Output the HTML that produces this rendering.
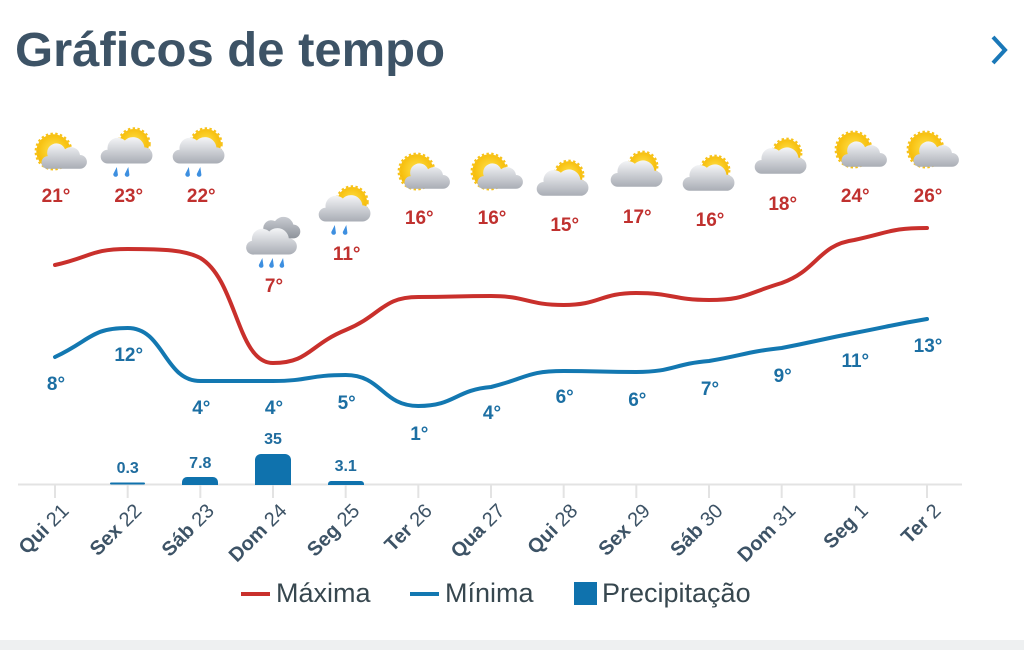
<!DOCTYPE html>
<html><head><meta charset="utf-8"><style>
html,body{margin:0;padding:0;background:#fff;}
body{width:1024px;height:650px;overflow:hidden;position:relative;font-family:"Liberation Sans",sans-serif;}
</style></head><body>
<svg width="1024" height="650" viewBox="0 0 1024 650" xmlns="http://www.w3.org/2000/svg" style="position:absolute;left:0;top:0">
<defs>
<radialGradient id="sun" cx="50%" cy="45%" r="55%"><stop offset="0" stop-color="#ffe14a"/><stop offset="1" stop-color="#f5b800"/></radialGradient>
<linearGradient id="cl" x1="0" y1="0" x2="0" y2="1"><stop offset="0" stop-color="#f4f5f7"/><stop offset="1" stop-color="#a9adb5"/></linearGradient>
<linearGradient id="cld" x1="0" y1="0" x2="0" y2="1"><stop offset="0" stop-color="#c9ccd2"/><stop offset="1" stop-color="#8e939b"/></linearGradient>
<g id="sunc0">
<circle cx="-3" cy="-3" r="15" fill="url(#sun)" stroke="#f7c21a" stroke-width="3" stroke-dasharray="2 2"/>
<path d="M-8 12 h28 a6 6 0 0 0 0-12 a8 8 0 0 0-13-5 a8 8 0 0 0-15 6 a5.5 5.5 0 0 0 0 11z" fill="url(#cl)"/>
</g>
<g id="sunc"><use href="#sunc0" transform="scale(1.15)"/></g>
<g id="rainsun0">
<circle cx="7" cy="-7" r="13" fill="url(#sun)" stroke="#f7c21a" stroke-width="3" stroke-dasharray="2 2"/>
<path d="M-16 10 h32 a7 7 0 0 0 0-14 a10 10 0 0 0-17-6 a9 9 0 0 0-15 8 a6 6 0 0 0 0 12z" fill="url(#cl)"/>
<path d="M-8 13 l-3 6 a2 2 0 0 0 4 1z M2 13 l-3 6 a2 2 0 0 0 4 1z" fill="#3d8fe0"/>
</g>
<g id="rainsun"><use href="#rainsun0" transform="scale(1.15)"/></g>
<g id="rain0">
<path d="M-4 -4 h20 a6 6 0 0 0 0-12 a9 9 0 0 0-16-3 a7 7 0 0 0-10 8z" fill="url(#cld)"/>
<path d="M-18 10 h30 a7 7 0 0 0 0-14 a10 10 0 0 0-17-6 a9 9 0 0 0-15 8 a6 6 0 0 0 2 12z" fill="url(#cl)"/>
<path d="M-11 13 l-3 6 a2 2 0 0 0 4 1z M-2 13 l-3 6 a2 2 0 0 0 4 1z M7 13 l-3 6 a2 2 0 0 0 4 1z" fill="#3d8fe0"/>
</g>
<g id="rain"><use href="#rain0" transform="scale(1.15)"/></g>
<g id="cloudsun0">
<circle cx="6" cy="-6" r="12" fill="url(#sun)" stroke="#f7c21a" stroke-width="3" stroke-dasharray="2 2"/>
<path d="M-16 12 h32 a7 7 0 0 0 0-14 a10 10 0 0 0-17-6 a9 9 0 0 0-15 8 a6 6 0 0 0 0 12z" fill="url(#cl)"/>
</g>
<g id="cloudsun"><use href="#cloudsun0" transform="scale(1.15)"/></g>
</defs>
<text x="15" y="66" font-size="48" font-weight="bold" fill="#3d5366" textLength="430" lengthAdjust="spacingAndGlyphs">Gráficos de tempo</text>
<path d="M993 37 l12 13 l-12 13" fill="none" stroke="#1a78b8" stroke-width="4"/>
<rect x="0" y="640" width="1024" height="10" fill="#eef0f1"/>

<line x1="18" y1="484.5" x2="962" y2="484.5" stroke="#e3e3e3" stroke-width="2"/>
<g stroke="#e3e3e3" stroke-width="2">
<line x1="55" y1="485" x2="55" y2="498"/><line x1="127.7" y1="485" x2="127.7" y2="498"/><line x1="200.3" y1="485" x2="200.3" y2="498"/><line x1="273" y1="485" x2="273" y2="498"/><line x1="345.7" y1="485" x2="345.7" y2="498"/><line x1="418.3" y1="485" x2="418.3" y2="498"/><line x1="491" y1="485" x2="491" y2="498"/><line x1="563.7" y1="485" x2="563.7" y2="498"/><line x1="636.3" y1="485" x2="636.3" y2="498"/><line x1="709" y1="485" x2="709" y2="498"/><line x1="781.7" y1="485" x2="781.7" y2="498"/><line x1="854.3" y1="485" x2="854.3" y2="498"/><line x1="927" y1="485" x2="927" y2="498"/>
</g>
<g font-size="20" fill="#3d5366" text-anchor="end">
<text transform="translate(70,512) rotate(-45)"><tspan font-weight="bold">Qui</tspan> 21</text>
<text transform="translate(142.7,512) rotate(-45)"><tspan font-weight="bold">Sex</tspan> 22</text>
<text transform="translate(215.3,512) rotate(-45)"><tspan font-weight="bold">Sáb</tspan> 23</text>
<text transform="translate(288,512) rotate(-45)"><tspan font-weight="bold">Dom</tspan> 24</text>
<text transform="translate(360.7,512) rotate(-45)"><tspan font-weight="bold">Seg</tspan> 25</text>
<text transform="translate(433.3,512) rotate(-45)"><tspan font-weight="bold">Ter</tspan> 26</text>
<text transform="translate(506,512) rotate(-45)"><tspan font-weight="bold">Qua</tspan> 27</text>
<text transform="translate(578.7,512) rotate(-45)"><tspan font-weight="bold">Qui</tspan> 28</text>
<text transform="translate(651.3,512) rotate(-45)"><tspan font-weight="bold">Sex</tspan> 29</text>
<text transform="translate(724,512) rotate(-45)"><tspan font-weight="bold">Sáb</tspan> 30</text>
<text transform="translate(796.7,512) rotate(-45)"><tspan font-weight="bold">Dom</tspan> 31</text>
<text transform="translate(869.3,512) rotate(-45)"><tspan font-weight="bold">Seg</tspan> 1</text>
<text transform="translate(942,512) rotate(-45)"><tspan font-weight="bold">Ter</tspan> 2</text>
</g>

<g fill="#0f72ad">
<rect x="110" y="482.5" width="35" height="2" rx="1"/>
<path d="M182 485 v-3 a5 5 0 0 1 5-5 h26 a5 5 0 0 1 5 5 v3z"/>
<path d="M255 485 v-25 a6 6 0 0 1 6-6 h24 a6 6 0 0 1 6 6 v25z"/>
<path d="M328 485 v-1 a3 3 0 0 1 3-3 h30 a3 3 0 0 1 3 3 v1z"/>
</g>
<g font-size="16" font-weight="bold" fill="#1f6c9e" text-anchor="middle">
<text x="127.7" y="473">0.3</text><text x="200.3" y="468">7.8</text><text x="273" y="444">35</text><text x="345.7" y="471">3.1</text>
</g>

<path d="M55 265 C91 257 91 249 127.7 249 C164 249 185 250 200.3 258 C237 280 237 363 273 363 C309 363 309 345 345.7 330 C382 315 382 297 418.3 297 C455 297 455 296 491 296 C527 296 527 305 563.7 305 C600 305 600 293 636.3 293 C673 293 673 300 709 300 C745 300 745 294 781.7 283 C818 270 818 245 854.3 240 C891 232 891 228 927 228" fill="none" stroke="#c9302c" stroke-width="4" stroke-linecap="round"/>
<path d="M55 357 C91 340 91 328 127.7 328 C164 328 164 381 200.3 381 C237 381 237 381 273 381 C309 381 309 375 345.7 375 C382 375 382 406 418.3 406 C455 406 455 390 491 387 C527 378 527 371 563.7 371 C600 371 600 372 636.3 372 C673 372 673 364 709 361 C745 355 745 352 781.7 348 C818 341 818 340 854.3 333 C891 326 891 325 927 319" fill="none" stroke="#1378b1" stroke-width="4" stroke-linecap="round"/>

<use href="#sunc" x="57" y="155"/>
<use href="#rainsun" x="126" y="152"/>
<use href="#rainsun" x="198" y="152"/>
<use href="#rain" x="275" y="243"/>
<use href="#rainsun" x="344" y="210"/>
<use href="#sunc" x="420" y="175"/>
<use href="#sunc" x="493" y="175"/>
<use href="#cloudsun" x="562" y="182"/>
<use href="#cloudsun" x="636" y="173"/>
<use href="#cloudsun" x="708" y="177"/>
<use href="#cloudsun" x="780" y="160"/>
<use href="#sunc" x="857" y="153"/>
<use href="#sunc" x="929" y="153"/>

<g font-size="19" font-weight="bold" fill="#c0312f" text-anchor="middle">
<text x="56" y="202">21°</text><text x="128.7" y="202">23°</text><text x="201.3" y="202">22°</text><text x="274" y="292">7°</text><text x="346.7" y="260">11°</text><text x="419.3" y="224">16°</text><text x="492" y="224">16°</text><text x="564.7" y="231">15°</text><text x="637.3" y="223">17°</text><text x="710" y="226">16°</text><text x="782.7" y="210">18°</text><text x="855.3" y="202">24°</text><text x="928" y="202">26°</text>
</g>
<g font-size="19" font-weight="bold" fill="#1c6fa3" text-anchor="middle">
<text x="56" y="390">8°</text><text x="128.7" y="361">12°</text><text x="201.3" y="414">4°</text><text x="274" y="414">4°</text><text x="346.7" y="409">5°</text><text x="419.3" y="440">1°</text><text x="492" y="419">4°</text><text x="564.7" y="403">6°</text><text x="637.3" y="406">6°</text><text x="710" y="395">7°</text><text x="782.7" y="382">9°</text><text x="855.3" y="367">11°</text><text x="928" y="352">13°</text>
</g>

<line x1="241" y1="594" x2="270" y2="594" stroke="#c9302c" stroke-width="4"/>
<text x="276" y="602" font-size="27" fill="#37474f">Máxima</text>
<line x1="410" y1="594" x2="439" y2="594" stroke="#1378b1" stroke-width="4"/>
<text x="445" y="602" font-size="27" fill="#37474f">Mínima</text>
<rect x="574" y="582" width="23" height="23" fill="#0f72ad"/>
<text x="602" y="602" font-size="27" fill="#37474f">Precipitação</text>
</svg>
</body></html>
